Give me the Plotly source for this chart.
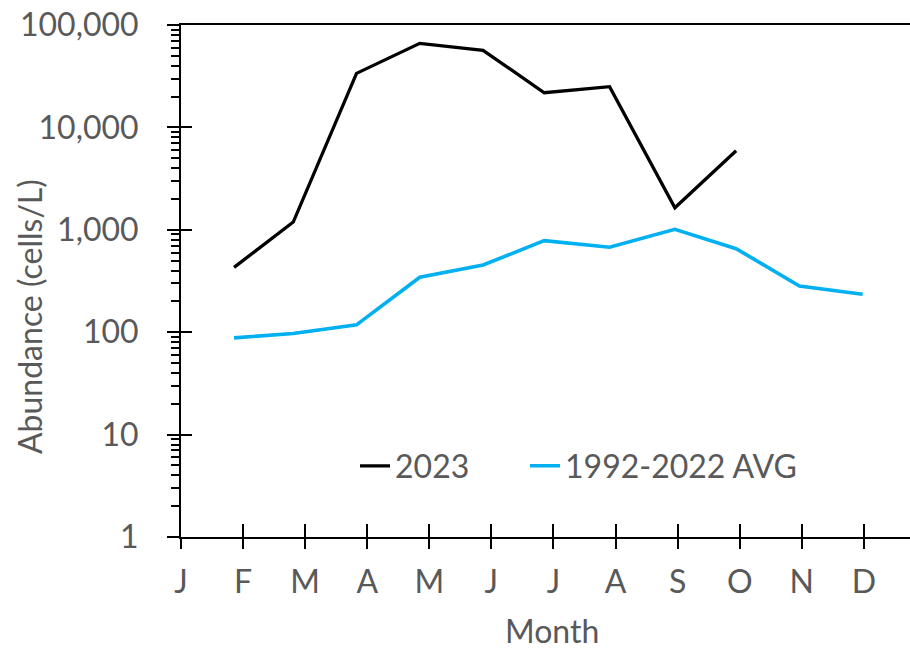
import plotly.graph_objects as go

# Monthly sampling positions (day of year) and abundances (cells/L)
sample_day = [26, 55, 86, 117, 148, 178, 210, 242, 272, 303, 334]
abund_2023 = [430, 1190, 33700, 66200, 56600, 21800, 25000, 1640, 5920]
abund_avg = [88, 97, 118, 344, 453, 783, 675, 1010, 654, 283, 235]

month_labels = ["J", "F", "M", "A", "M", "J", "J", "A", "S", "O", "N", "D"]
month_start = [i * 365 / 12 for i in range(12)]

FONT = "Lato"
GREY = "#595959"
FS = 32

x_range = [0, 357.2]
y_range = [0, 5]
major = [10 ** d for d in range(6)]
minor = [k * 10 ** d for d in range(5) for k in range(2, 10)]

fig = go.Figure()
fig.add_trace(go.Scatter(
    x=sample_day[:len(abund_2023)], y=abund_2023, name="2023",
    mode="lines", line=dict(color="#000000", width=3.3), legend="legend",
))
fig.add_trace(go.Scatter(
    x=sample_day[:len(abund_avg)], y=abund_avg, name="1992-2022 AVG",
    mode="lines", line=dict(color="#00B0F0", width=3.6), legend="legend2",
))
# empty trace that anchors the overlay axes used for inward tick marks
fig.add_trace(go.Scatter(x=[], y=[], xaxis="x2", yaxis="y2",
                         showlegend=False, hoverinfo="skip"))

legend_style = dict(
    orientation="h", yanchor="middle", xanchor="left", y=0.1387,
    font=dict(family=FONT, size=FS, color=GREY),
    bgcolor="rgba(0,0,0,0)", borderwidth=0,
)

fig.update_layout(
    width=910, height=652,
    margin=dict(l=181, r=0, t=25, b=115),
    paper_bgcolor="white", plot_bgcolor="white",
    font=dict(family=FONT, size=FS, color=GREY),
    showlegend=True,
    legend=dict(x=0.2387, **legend_style),
    legend2=dict(x=0.4719, **legend_style),
    xaxis=dict(
        range=x_range, tickvals=month_start, ticktext=month_labels,
        showgrid=False, zeroline=False,
        showline=True, linecolor="black", linewidth=2, mirror=True,
        ticks="outside", ticklen=10, tickwidth=2, tickcolor="black",
        tickfont=dict(family=FONT, size=FS, color=GREY),
        ticklabelstandoff=6,
    ),
    yaxis=dict(
        type="log", range=y_range, tickvals=major,
        ticktext=["1", "10", "100", "1,000", "10,000", "100,000"],
        showgrid=False, zeroline=False,
        showline=True, linecolor="black", linewidth=2,
        ticks="outside", ticklen=12, tickwidth=2, tickcolor="black",
        minor=dict(tickvals=minor, ticks="outside", ticklen=8,
                   tickwidth=2, tickcolor="black", showgrid=False),
        tickfont=dict(family=FONT, size=FS, color=GREY),
        ticklabelstandoff=22,
    ),
    xaxis2=dict(
        overlaying="x", range=x_range, tickvals=month_start,
        showticklabels=False, showgrid=False, zeroline=False, showline=False,
        ticks="inside", ticklen=13, tickwidth=2, tickcolor="black",
    ),
    yaxis2=dict(
        overlaying="y", type="log", range=y_range, tickvals=major,
        showticklabels=False, showgrid=False, zeroline=False, showline=False,
        ticks="inside", ticklen=11, tickwidth=2, tickcolor="black",
    ),
    annotations=[
        dict(text="Abundance (cells/L)", xref="paper", yref="paper",
             x=-0.2071, y=0.4297, xanchor="center", yanchor="middle",
             textangle=-90, showarrow=False,
             font=dict(family=FONT, size=FS, color=GREY)),
        dict(text="Month", xref="paper", yref="paper",
             x=0.5085, y=-0.2246, xanchor="center", yanchor="bottom",
             showarrow=False,
             font=dict(family=FONT, size=FS, color=GREY)),
    ],
)

fig.write_html("out.html")
